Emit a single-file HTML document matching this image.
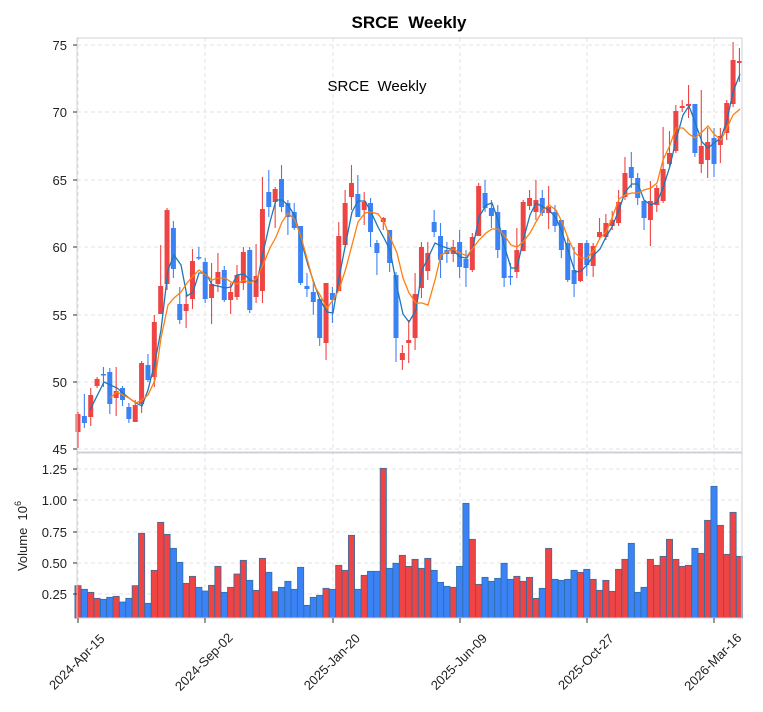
<!DOCTYPE html>
<html><head><meta charset="utf-8"><style>
html,body{margin:0;padding:0;background:#fff;}
svg{display:block;font-family:"Liberation Sans","DejaVu Sans",sans-serif;}
</style></head><body>
<svg id="c" width="763" height="712" viewBox="0 0 763 712" xmlns="http://www.w3.org/2000/svg">
<rect width="763" height="712" fill="#fff"/>
<text x="409" y="28" font-size="17" font-weight="bold" text-anchor="middle" fill="#000">SRCE&#160;&#160;Weekly</text>
<g id="grid"></g>
<g id="cand"></g>
<g id="vol"></g>
<polyline id="ma1" fill="none" stroke="#1f77b4" stroke-width="1.3"/>
<polyline id="ma2" fill="none" stroke="#ff7f0e" stroke-width="1.3"/>
<text x="377" y="91" font-size="15" text-anchor="middle" fill="#000">SRCE&#160;&#160;Weekly</text>
<rect x="77" y="38" width="665" height="414" fill="none" stroke="#d0d0d8" stroke-width="1"/>
<rect x="77" y="453" width="665" height="165" fill="none" stroke="#d0d0d8" stroke-width="1"/>
<g id="axes" font-size="13" fill="#222"></g>
<text transform="translate(27,536) rotate(-90)" font-size="13" text-anchor="middle" fill="#222">Volume&#160;&#160;10<tspan dy="-6" font-size="9">6</tspan></text>
</svg>
<script>
var NS="http://www.w3.org/2000/svg";
function el(p,t,a,txt){var e=document.createElementNS(NS,t);for(var k in a)e.setAttribute(k,a[k]);if(txt!=null)e.textContent=txt;p.appendChild(e);return e;}
var grid=document.getElementById('grid'),cand=document.getElementById('cand'),vol=document.getElementById('vol'),axes=document.getElementById('axes');
var py=[[75,45],[70,112],[65,180],[60,247],[55,315],[50,382],[45,449]];
py.forEach(function(p){el(grid,'line',{x1:77,x2:742,y1:p[1],y2:p[1],stroke:'#e3e3e3','stroke-dasharray':'4,3'});
el(axes,'line',{x1:73,x2:77,y1:p[1],y2:p[1],stroke:'#333'});
el(axes,'text',{x:67,y:p[1]+5,'text-anchor':'end'},String(p[0]));});
var vy=[["1.25",469],["1.00",500],["0.75",532],["0.50",563],["0.25",594]];
vy.forEach(function(p){el(grid,'line',{x1:77,x2:742,y1:p[1],y2:p[1],stroke:'#e3e3e3','stroke-dasharray':'4,3'});
el(axes,'line',{x1:73,x2:77,y1:p[1],y2:p[1],stroke:'#333'});
el(axes,'text',{x:67,y:p[1]+5,'text-anchor':'end'},p[0]);});
var xt=[[78,"2024-Apr-15"],[205,"2024-Sep-02"],[333,"2025-Jan-20"],[460,"2025-Jun-09"],[587,"2025-Oct-27"],[714,"2026-Mar-16"]];
xt.forEach(function(p){el(grid,'line',{x1:p[0],x2:p[0],y1:38,y2:618,stroke:'#e3e3e3','stroke-dasharray':'4,3'});
el(axes,'line',{x1:p[0],x2:p[0],y1:618,y2:623,stroke:'#333'});
el(axes,'text',{'text-anchor':'middle',transform:'translate('+(p[0]+2)+',665) rotate(-45)'},p[1]);});
var C=[
"R 414 432 412 448","B 416 423 394 428","R 395 417 388 426","R 379 386 377 388","B 374 375 367 387","B 372 404 368 414","R 391 398 367 416","B 388 400 386 406","B 407 419 403 423","R 405 422 400 422",
"R 363 404 361 413","B 365 380 354 382","R 322 377 315 387","R 286 314 245 314","R 210 284 208 290","B 228 269 221 278","B 304 320 287 324","R 304 311 293 328","R 261 299 249 309","B 257 258 247 260",
"B 262 299 258 303","R 284 298 263 324","R 272 284 253 292","B 270 300 266 302","R 292 300 283 314","R 275 297 265 300","R 252 283 247 290","B 250 310 247 313","R 276 297 244 303","R 209 291 177 303",
"B 192 207 170 217","R 189 202 187 228","B 179 207 165 212","B 203 217 200 235","B 212 228 203 230","B 226 283 226 285","B 286 289 273 297","B 292 302 283 315","B 299 338 299 346","R 283 343 283 360",
"B 293 300 287 323","R 236 291 222 291","R 203 245 190 245","R 183 197 165 210","B 194 217 175 217","R 202 210 192 225","B 203 232 198 247","B 243 253 240 275","R 218 222 217 230","B 230 263 230 272",
"B 275 338 272 362","R 353 360 345 370","R 340 343 320 363","R 294 338 273 350","R 247 288 242 298","R 253 271 242 280","B 222 232 210 237","B 236 260 223 278","B 250 254 242 263","R 247 254 240 262",
"B 242 267 230 278","B 259 268 250 287","R 237 270 233 272","R 186 236 183 236","B 193 208 180 212","B 208 216 200 228","B 212 250 205 258","B 230 278 230 287","B 276 277 263 285","R 250 272 228 278",
"R 202 251 200 251","R 198 206 190 210","R 200 212 180 220","B 198 213 190 216","R 207 213 186 229","B 212 226 205 232","B 220 250 220 258","B 243 280 236 282","B 270 284 247 297","R 243 281 243 282",
"B 243 265 240 276","R 246 266 243 277","R 232 237 218 240","R 223 237 214 240","R 220 226 211 230","R 202 223 190 226","R 173 197 157 200","B 167 178 152 188","B 178 198 173 205","B 201 218 200 230",
"R 201 220 181 246","R 188 205 185 212","R 169 201 127 203","R 153 164 131 166","R 111 151 105 153","R 106 108 100 112","R 104 106 85 118","B 104 153 104 157","R 146 164 90 173","R 142 160 128 178",
"B 138 164 128 177","R 136 145 128 163","R 103 133 100 140","R 60 104 42 107","R 61 63 48 82"];
var V=[392,403,412,430,433,427,424,441,430,392,235,445,346,202,238,280,322,385,364,397,408,391,334,412,397,357,316,376,406,310,352,410,397,379,403,337,451,427,421,400,403,331,346,241,403,361,349,349,40,340,325,301,
334,313,340,310,346,382,394,397,334,145,253,388,367,379,370,325,373,364,379,367,430,400,280,373,376,373,346,352,343,373,406,376,409,343,313,265,412,397,313,331,304,253,313,334,331,280,295,196,94,211,298,172,304];
var RED="#ef4444",BLUE="#3b82f6",step=6.36;
C.forEach(function(s,i){var a=s.split(' '),c=a[0]=='R'?RED:BLUE,x=78+step*i;
var bt=+a[1],bb=+a[2],wt=+a[3],wb=+a[4];
el(cand,'line',{x1:x,x2:x,y1:wt,y2:wb,stroke:c,'stroke-width':1.1});
el(cand,'rect',{x:x-2.5,y:bt,width:5,height:Math.max(1.5,bb-bt),fill:c});
var vt=455+V[i]/3;
el(vol,'rect',{x:x-3.1,y:vt,width:6.2,height:618-vt,fill:c,stroke:'#2f6fa8','stroke-width':0.8});
});
var m1="90,410 104,382 117,388 129,398 136,403 142,406 148,390 155,362 161,330 168,270 174,255 181,265 187,296 193,292 199,273 206,273 212,285 218,286 225,288 231,287 237,275 244,274 250,280 257,282 263,253 270,222 276,200 282,200 288,205 295,216 301,240 308,265 314,283 320,300 327,312 333,313 339,278 346,242 352,212 358,201 365,201 371,212 378,227 384,238 390,250 397,287 403,314 409,322 416,310 422,270 428,258 435,243 441,246 447,248 453,250 460,257 467,258 473,247 479,217 486,205 492,203 498,220 504,245 511,268 517,268 523,241 530,215 536,203 543,207 549,210 556,218 562,232 568,250 575,272 581,271 587,265 594,255 600,249 606,237 612,227 619,210 625,192 632,184 638,184 644,200 651,205 657,202 663,188 670,166 676,140 683,115 689,106 695,122 702,142 708,148 714,143 721,138 727,120 733,92 740,74";
var m2="110,398 117,392 129,398 136,403 142,400 148,395 155,380 161,338 168,305 174,298 181,292 187,283 193,276 199,270 206,275 212,280 218,278 225,278 231,282 237,284 244,280 250,283 257,278 263,265 270,248 276,237 282,222 288,213 295,220 301,237 308,262 314,285 320,295 327,308 333,300 339,290 346,268 352,245 358,222 365,213 371,212 378,214 384,222 390,237 397,253 403,278 409,293 416,303 422,303 428,305 435,280 441,255 447,252 453,249 460,253 467,256 473,248 479,240 486,233 492,229 498,229 504,235 511,245 517,247 523,242 530,233 536,222 543,210 549,205 556,210 562,222 568,238 575,253 581,258 587,258 594,250 600,238 606,232 612,218 619,199 625,195 632,193 638,193 644,190 651,188 657,183 663,160 670,145 676,128 683,128 689,134 695,138 702,132 708,126 714,134 721,140 727,128 733,115 740,109";
document.getElementById('ma1').setAttribute('points',m1);
document.getElementById('ma2').setAttribute('points',m2);
</script>
</body></html>
